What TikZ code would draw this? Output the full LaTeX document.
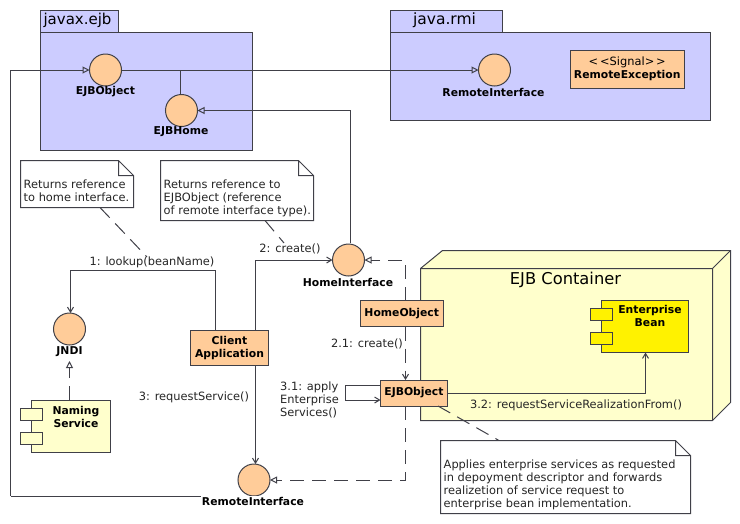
\documentclass[tikz,border=0pt]{standalone}
\usepackage{fontspec}
\setmainfont{DejaVu Sans}
\usetikzlibrary{arrows.meta,calc}
\definecolor{ln}{HTML}{404048}
\definecolor{pkg}{HTML}{CCCCFF}
\definecolor{org}{HTML}{FFCC99}
\definecolor{nodey}{HTML}{FFFFCC}
\tikzset{
  base/.style={draw=ln,line width=1pt,inner sep=0pt,outer sep=0pt},
  pkgbox/.style={base,fill=pkg},
  iface/.style={base,circle,fill=org,minimum size=32pt},
  objbox/.style={base,fill=org,align=center,font=\fontsize{10.8}{13}\selectfont\bfseries},
  port/.style={base,fill=#1,minimum width=22pt,minimum height=12pt},
  lbl/.style={inner sep=0pt,align=left,text=black!85,font=\fontsize{11.4}{13}\selectfont},
  blbl/.style={inner sep=1pt,align=center,font=\fontsize{10.8}{13}\selectfont\bfseries},
  notebox/.style={inner sep=0pt,outer sep=0pt},
  notefold/.style={draw=ln,line width=1pt,fill=white},
  notetext/.style={lbl,anchor=south west},
  conn/.style={draw=ln,line width=1pt},
  dep/.style={conn,dash pattern=on 14pt off 8pt},
  tipo/.style={-{Triangle[open,length=7pt,width=7pt]}},
  tips/.style={-{Straight Barb[length=5pt,width=6pt]}},
}
\newcommand{\drawnote}[1]{\draw[notefold] (#1.north west) -- ($(#1.north east)+(-15,0)$) -- ($(#1.north east)+(0,15)$) -- (#1.south east) -- (#1.south west) -- cycle ($(#1.north east)+(-15,0)$) -- ($(#1.north east)+(-15,15)$) -- ($(#1.north east)+(0,15)$);}
\begin{document}
\begin{tikzpicture}[x=1pt,y=-1pt]
\useasboundingbox[fill=white] (0,0) rectangle (740,523);
% packages
\node[pkgbox,minimum width=77.5pt,minimum height=22pt] (tab1) at (79.25,21) {};
\node[pkgbox,minimum width=212pt,minimum height=118pt] (pk1) at (146.5,91) {};
\node[font=\fontsize{15}{16}\selectfont,inner sep=0pt] (tab1t) at (77.5,20.5) {javax.ejb};
\node[pkgbox,minimum width=112pt,minimum height=22pt] (tab2) at (446.5,21) {};
\node[pkgbox,minimum width=320pt,minimum height=88.5pt] (pk2) at (550.5,76.25) {};
\node[font=\fontsize{15.5}{16}\selectfont,inner sep=0pt] (tab2t) at (444.5,20.5) {java.rmi};
% container
\coordinate (fnw) at (420.5,268.5);
\coordinate (fne) at (712.5,268.5);
\coordinate (fse) at (712.5,420.5);
\coordinate (fsw) at (420.5,420.5);
\coordinate (bnw) at (442.5,250.5);
\coordinate (bne) at (730.5,250.5);
\coordinate (bse) at (730.5,402.5);
\draw[conn,fill=nodey] (fnw) -- (bnw) -- (bne) -- (bse) -- (fse) -- (fsw) -- cycle;
\draw[conn] (fnw) -- (fne) -- (fse) (fne) -- (bne);
\node[font=\fontsize{16.3}{18}\selectfont,inner sep=0pt] (contt) at (565.5,280) {EJB Container};
% interfaces
\node[iface] (eo) at (105.5,70) {};
\node[iface] (eh) at (181.5,110.5) {};
\node[iface] (ri) at (494.5,70) {};
\node[iface] (hi) at (348.5,260) {};
\node[iface] (jndi) at (69.5,329) {};
\node[iface] (ri2) at (254,480) {};
% coordinates
\coordinate (left) at (10.5,70);
\coordinate (bot) at (10.5,496);
\coordinate (branch) at (180.5,70);
\coordinate (ehup) at (350.5,110.5);
\coordinate (hit) at (350.5,243);
\coordinate (lk1) at (215.5,270.5);
\coordinate (lk2) at (70.5,270.5);
\coordinate (cr1) at (255.5,260);
\coordinate (dep1) at (405.5,260);
\coordinate (dep2) at (405.5,480);
\coordinate (lp1) at (345.5,385);
\coordinate (lp2) at (345.5,400);
\coordinate (r32) at (645.5,393.5);
% boxes
\node[objbox,minimum width=114.5pt,minimum height=37.5pt] (rex) at (627.25,69.25) {\fontsize{11.4}{14}\selectfont\mdseries {<}\,{<}Signal{>}\,{>}\\RemoteException};
\node[objbox,minimum width=78pt,minimum height=35pt] (client) at (229.5,348) {Client\\Application};
\node[objbox,minimum width=83.5pt,minimum height=26pt] (hobj) at (401.75,313.5) {HomeObject};
\node[objbox,minimum width=67pt,minimum height=26pt] (eobj) at (414,393) {EJBObject};
% components
\node[base,fill=nodey,minimum width=79pt,minimum height=52pt] (ns) at (71,426) {};
\node[port=nodey] (nsp1) at (31.5,414.5) {};
\node[port=nodey] (nsp2) at (31.5,438.5) {};
\node[blbl,inner sep=0pt] (nst) at (76,416.5) {Naming\\Service};
\node[base,fill=yellow,minimum width=87pt,minimum height=52pt] (eb) at (645,326.5) {};
\node[port=yellow] (ebp1) at (601.5,314.5) {};
\node[port=yellow] (ebp2) at (601.5,338.5) {};
\node[blbl,inner sep=0pt] (ebt) at (650,316) {Enterprise\\Bean};
% notes
\node[notebox,minimum width=113pt,minimum height=47pt] (n1) at (77,184) {};
\drawnote{n1}
\node[notebox,minimum width=153pt,minimum height=60pt] (n2) at (237,190.5) {};
\drawnote{n2}
\node[notebox,minimum width=250pt,minimum height=73pt] (n3) at (565.5,477) {};
\drawnote{n3}
\node[notetext] (n1t) at ($(n1.south west)+(3,-5.5)$) {Returns reference\\to home interface.};
\node[notetext] (n2t) at ($(n2.south west)+(3,-3)$) {Returns reference to\\EJBObject (reference\\of remote interface type).};
\node[notetext] (n3t) at ($(n3.south west)+(3,-3.5)$) {Applies enterprise services as requested\\in depoyment descriptor and forwards\\realizetion of service request to\\enterprise bean implementation.};
% connectors
\coordinate (n1e) at (147,257);
\coordinate (n2e) at (284,243);
\draw[dep] (100,207.5) -- (n1e);
\draw[dep] (265,220.5) -- (n2e);
\draw[dep] (438,406) -- (499,440.5);
\draw[conn,tipo] (bot) -- (left) -- (eo.west);
\draw[conn] (ri2.south) -- (bot);
\draw[conn,tipo] (eo.east) -- (ri.west);
\draw[conn] (branch) -- (eh.north-|branch);
\draw[conn,tipo] (hit) -- (ehup) -- (eh.east);
\draw[conn,tips] (client.north-|lk1) -- (lk1) -- (lk2) -- (jndi.north-|lk2);
\draw[conn,tips] (client.north-|cr1) -- (cr1) -- (hi.west);
\draw[conn,tips] (client.south-|cr1) -- (ri2.north-|cr1);
\draw[dep,tipo] (ns.north-|jndi) -- +(0,-39);
\draw[dep,tipo] (hobj.north-|dep1) -- (dep1) -- (hi.east);
\draw[dep,tips] (hobj.south-|dep1) -- (eobj.north-|dep1);
\draw[dep,tipo] (eobj.south-|dep2) -- (dep2) -- (ri2.east);
\draw[conn,tips] (eobj.west|-lp1) -- (lp1) -- (lp2) -- (eobj.west|-lp2);
\draw[conn,tips] (eobj.east|-r32) -- (r32) -- (eb.south-|r32);
% text labels
\node[blbl] (l1) at (105.5,92) {EJBObject};
\node[blbl] (l2) at (181,132) {EJBHome};
\node[blbl] (l3) at (493.5,92) {RemoteInterface};
\node[blbl] (l4) at (348,282) {HomeInterface};
\node[blbl] (l5) at (69.5,352) {JNDI};
\node[blbl,fill=white] (l6) at (253,501.5) {RemoteInterface};
\node[lbl] (m1) at (152,262) {1: lookup(beanName)};
\node[lbl] (m2) at (290,249) {2: create()};
\node[lbl] (m3) at (194,397) {3: requestService()};
\node[lbl] (m4) at (367,343.5) {2.1: create()};
\node[lbl,anchor=west] (m5) at (280,399.5) {3.1: apply\\Enterprise\\Services()};
\node[lbl] (m6) at (576,405) {3.2: requestServiceRealizationFrom()};
\end{tikzpicture}
\end{document}
